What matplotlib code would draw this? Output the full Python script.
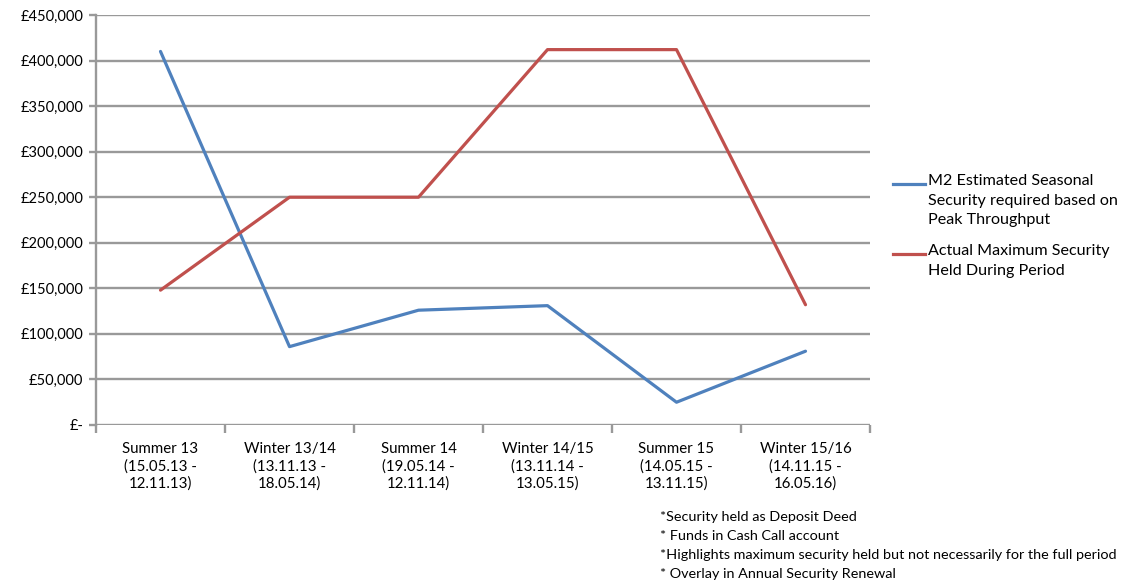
import numpy as np
import matplotlib
matplotlib.use("Agg")
import matplotlib.pyplot as plt
from matplotlib.lines import Line2D
from matplotlib.ticker import FuncFormatter

plt.rcParams['font.family'] = ['Lato', 'DejaVu Sans']

# data
periods = ["Summer 13\n(15.05.13 -\n12.11.13)", "Winter 13/14\n(13.11.13 -\n18.05.14)",
           "Summer 14\n(19.05.14 -\n12.11.14)", "Winter 14/15\n(13.11.14 -\n13.05.15)",
           "Summer 15\n(14.05.15 -\n13.11.15)", "Winter 15/16\n(14.11.15 -\n16.05.16)"]
estimated = [410000, 86000, 126000, 131000, 25000, 81000]
actual = [148000, 250000, 250000, 412000, 412000, 132000]
series_names = ["M2 Estimated Seasonal\nSecurity required based on\nPeak Throughput",
                "Actual Maximum Security\nHeld During Period"]
footnotes = ["*Security held as Deposit Deed",
             "* Funds in Cash Call account",
             "*Highlights maximum security held but not necessarily for the full period",
             "* Overlay in Annual Security Renewal"]

W, H = 1125, 587
fig = plt.figure(figsize=(W / 100, H / 100), dpi=100)
ax = fig.add_axes([96 / W, 1 - 425 / H, (870 - 96) / W, (425 - 15) / H])

x = np.arange(len(periods))
grey = "#999999"
l1, = ax.plot(x, estimated, color="#4F81BD", lw=2.3, solid_capstyle="round")
l2, = ax.plot(x, actual, color="#C0504D", lw=2.3, solid_capstyle="round")

ax.set_xlim(-0.5, len(periods) - 0.5)
ax.set_ylim(0, 450000)
ax.set_yticks(np.arange(0, 450001, 50000))
ax.yaxis.set_major_formatter(FuncFormatter(lambda v, p: "£-" if v == 0 else "£{:,.0f}".format(v)))
ax.yaxis.grid(True, color=grey, lw=1.7)
ax.set_axisbelow(True)

# category boundaries get ticks, centres get labels
ax.set_xticks(np.arange(-0.5, len(periods), 1.0))
ax.set_xticklabels([])
ax.set_xticks(x, minor=True)
ax.set_xticklabels(periods, minor=True, fontsize=10.8, linespacing=1.3)
ax.tick_params(axis="x", which="major", length=6, width=1.7, color=grey)
ax.tick_params(axis="x", which="minor", length=0, pad=12)
ax.tick_params(axis="y", length=5, width=1.7, color=grey, labelsize=10.5, pad=4)

for s in ["top", "right", "bottom"]:
    ax.spines[s].set_visible(False)
ax.spines["left"].set_color(grey)
ax.spines["left"].set_linewidth(1.7)

# legend drawn by hand so the handle lines up with the first text line
for line, label, ytop in [(l1, series_names[0], 184), (l2, series_names[1], 254)]:
    fig.add_artist(Line2D([893 / W, 925 / W], [1 - ytop / H] * 2, color=line.get_color(),
                          lw=2.3, transform=fig.transFigure))
    fig.text(928 / W, 1 - (ytop - 10) / H, label, fontsize=11.6, va="top", ha="left",
             linespacing=1.5)

for i, note in enumerate(footnotes):
    fig.text(660 / W, 1 - (517 + 19 * i) / H, note, fontsize=10.4, va="center", ha="left")

fig.savefig("out.png", dpi=100)
